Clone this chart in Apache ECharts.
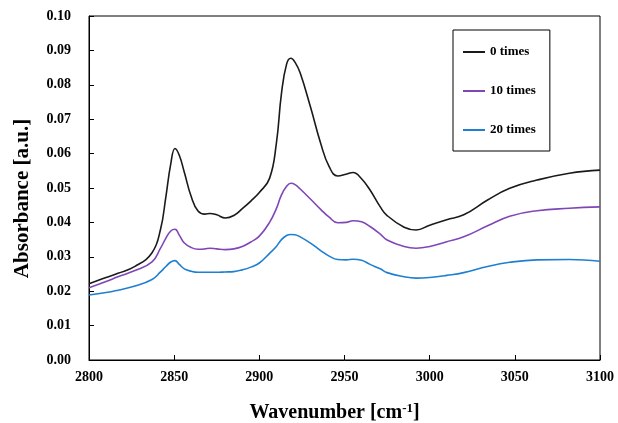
<!DOCTYPE html>
<html><head><meta charset="utf-8">
<script src="https://cdn.jsdelivr.net/npm/echarts@6/dist/echarts.min.js"></script>
<style>html,body{margin:0;padding:0;background:#fff}#c{width:618px;height:423px}</style>
</head><body><div id="c"></div>
<script>
var wavenumbers = [2800,2810,2817,2827,2837,2842,2845,2848,2850.5,2853,2856,2860,2864,2868,2871,2875,2880,2885,2890,2895,2900,2906,2910,2913,2916,2918.5,2921,2924,2930,2936,2941,2946,2951,2955,2960,2965,2971,2975,2985,2992,3000,3010,3020,3034,3047,3063,3082,3100];
var times0 = [0.0222,0.0240,0.0252,0.0272,0.0312,0.0380,0.0470,0.0570,0.0615,0.0595,0.0545,0.0475,0.0433,0.0424,0.0426,0.0422,0.0413,0.0420,0.0440,0.0462,0.0487,0.0528,0.0630,0.0775,0.0860,0.0877,0.0865,0.0834,0.0736,0.0630,0.0562,0.0535,0.0540,0.0545,0.0527,0.0494,0.0445,0.0420,0.0386,0.0378,0.0392,0.0408,0.0422,0.0465,0.0499,0.0523,0.0543,0.0552];
var times10 = [0.0210,0.0228,0.0242,0.0260,0.0285,0.0325,0.0353,0.0375,0.0380,0.0363,0.0340,0.0327,0.0322,0.0323,0.0325,0.0323,0.0321,0.0323,0.0330,0.0343,0.0360,0.0400,0.0440,0.0480,0.0505,0.0514,0.0510,0.0497,0.0468,0.0438,0.0415,0.0399,0.0400,0.0405,0.0402,0.0388,0.0366,0.0349,0.0330,0.0325,0.0330,0.0344,0.0358,0.0390,0.0418,0.0434,0.0441,0.0445];
var times20 = [0.0189,0.0196,0.0203,0.0215,0.0234,0.0256,0.0271,0.0285,0.0289,0.0278,0.0265,0.0258,0.0255,0.0255,0.0255,0.0255,0.0256,0.0257,0.0262,0.0270,0.0282,0.0310,0.0330,0.0350,0.0362,0.0365,0.0364,0.0358,0.0340,0.0318,0.0302,0.0292,0.0291,0.0293,0.0290,0.0278,0.0265,0.0254,0.0242,0.0238,0.0240,0.0246,0.0254,0.0272,0.0284,0.0291,0.0292,0.0287];
var seriesNames = ['0 times','10 times','20 times'];
var colors = ['#1a1a1a','#8046b8','#1f7fd0'];

function pairs(v){ return wavenumbers.map(function(x,i){ return [x, v[i]]; }); }
var font = 'Liberation Serif';
var chart = echarts.init(document.getElementById('c'), null, {renderer:'canvas'});
chart.setOption({
  animation:false,
  backgroundColor:'#fff',
  grid:{left:89,right:18,top:16,bottom:63,containLabel:false,outerBoundsMode:'none',show:true,borderColor:'#000',borderWidth:1,backgroundColor:'transparent'},
  legend:{
    orient:'vertical', left:453, top:30,
    data:seriesNames,
    icon:'rect',
    itemWidth:22, itemHeight:2, itemGap:25,
    padding:[15,14,14,10],
    borderColor:'#000', borderWidth:1,
    textStyle:{fontFamily:font,fontWeight:'bold',fontSize:13,lineHeight:14,height:14,color:'#000'}
  },
  xAxis:{
    type:'value', min:2800, max:3100, interval:50,
    name:'Wavenumber [cm{sup|-1}]', nameLocation:'middle', nameGap:42,
    nameTextStyle:{fontFamily:font,fontWeight:'bold',fontSize:20,color:'#000',padding:[0,20,0,0],
      rich:{sup:{fontFamily:font,fontWeight:'bold',fontSize:13,color:'#000',verticalAlign:'top',padding:[0,0,9,0]}}},
    axisLine:{lineStyle:{color:'#000',width:1}},
    axisTick:{inside:true,length:5,lineStyle:{color:'#000'}},
    axisLabel:{fontFamily:font,fontWeight:'bold',fontSize:14,color:'#000',margin:10,
      formatter:function(v){return String(v);}},
    splitLine:{show:false}
  },
  yAxis:{
    type:'value', min:0, max:0.1, interval:0.01,
    name:'Absorbance [a.u.]', nameLocation:'middle', nameGap:56, nameRotate:90,
    nameTextStyle:{fontFamily:font,fontWeight:'bold',fontSize:21,color:'#000',padding:[0,21,0,0]},
    axisLine:{lineStyle:{color:'#000',width:1}},
    axisTick:{inside:true,length:5,lineStyle:{color:'#000'}},
    axisLabel:{fontFamily:font,fontWeight:'bold',fontSize:14,color:'#000',margin:18,
      formatter:function(v){return v.toFixed(2);}},
    splitLine:{show:false}
  },
  series:[
    {name:seriesNames[0],type:'line',data:pairs(times0),symbol:'none',smooth:0.45,lineStyle:{color:colors[0],width:1.6},itemStyle:{color:colors[0]}},
    {name:seriesNames[1],type:'line',data:pairs(times10),symbol:'none',smooth:0.45,lineStyle:{color:colors[1],width:1.6},itemStyle:{color:colors[1]}},
    {name:seriesNames[2],type:'line',data:pairs(times20),symbol:'none',smooth:0.45,lineStyle:{color:colors[2],width:1.6},itemStyle:{color:colors[2]}}
  ]
});
</script></body></html>
